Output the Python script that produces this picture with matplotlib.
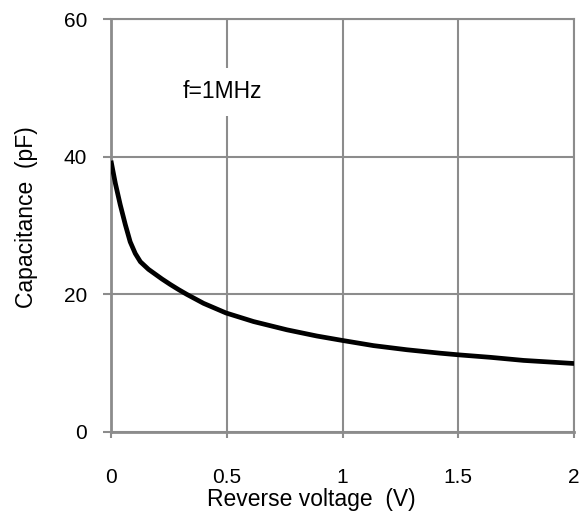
import numpy as np
import matplotlib
matplotlib.use("Agg")
import matplotlib.pyplot as plt

matplotlib.rcParams['font.family'] = ['Liberation Sans', 'DejaVu Sans']

# values
voltage = [0.0, 0.019, 0.040, 0.062, 0.083, 0.105, 0.127, 0.162, 0.220,
           0.256, 0.292, 0.328, 0.40, 0.497, 0.616, 0.760, 0.889, 1.0,
           1.134, 1.278, 1.422, 1.505, 1.638, 1.782, 2.0]
capacitance = [39.4, 36.1, 33.0, 30.1, 27.6, 25.9, 24.7, 23.6, 22.2,
               21.4, 20.65, 19.95, 18.65, 17.25, 16.0, 14.8, 13.9, 13.25,
               12.5, 11.9, 11.4, 11.15, 10.8, 10.35, 9.9]
x_ticks = [0, 0.5, 1, 1.5, 2]
x_labels = ['0', '0.5', '1', '1.5', '2']
y_ticks = [0, 20, 40, 60]

grid_col = '#8c8c8c'

fig = plt.figure(figsize=(5.84, 5.15), dpi=100)
ax = fig.add_axes([0.190, 0.162, 0.793, 0.801])

ax.plot(voltage, capacitance, color='black', lw=3.4, solid_capstyle='butt',
        solid_joinstyle='round', zorder=3)

ax.set_xlim(0, 2)
ax.set_ylim(0, 60)
ax.set_xticks(x_ticks)
ax.set_xticklabels(x_labels)
ax.set_yticks(y_ticks)
ax.grid(True, color=grid_col, lw=1.5)
ax.set_axisbelow(True)

for s in ax.spines.values():
    s.set_color(grid_col)
    s.set_linewidth(1.5)
ax.spines['left'].set_linewidth(2.0)
ax.spines['bottom'].set_linewidth(2.0)

ax.tick_params(axis='x', length=4, width=1.5, color=grid_col, pad=22,
               labelsize=15)
ax.tick_params(axis='y', length=6, width=1.5, color=grid_col, pad=11,
               labelsize=15)

ax.set_xlabel('Reverse voltage  (V)', fontsize=16.5, labelpad=1)
ax.set_ylabel('Capacitance  (pF)', fontsize=16.5, labelpad=19)
ax.xaxis.label.set_x(0.433)
ax.yaxis.label.set_y(0.52)

ax.text(0.479, 49.4, 'f=1MHz', fontsize=16.5, ha='center', va='center',
        bbox=dict(facecolor='white', edgecolor='none', pad=9), zorder=2)

fig.savefig('out.png', dpi=100)
